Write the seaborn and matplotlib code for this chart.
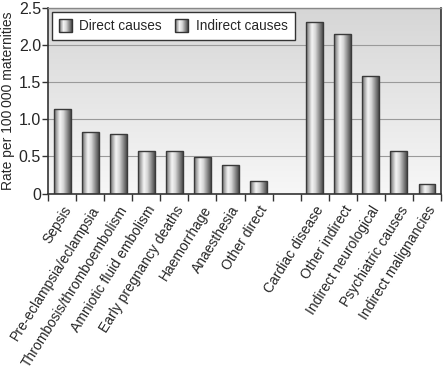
import numpy as np
import pandas as pd
import matplotlib
matplotlib.use("Agg")
import matplotlib.pyplot as plt
import seaborn as sns
from matplotlib.patches import Rectangle
from matplotlib.image import BboxImage
from matplotlib.transforms import Bbox, TransformedBbox
from matplotlib.colors import LinearSegmentedColormap

sns.set_style("white")
plt.rcParams["font.family"] = ["Liberation Sans", "DejaVu Sans"]

# data
direct_causes = ["Sepsis", "Pre-eclampsia/eclampsia", "Thrombosis/thromboembolism",
                 "Amniotic fluid embolism", "Early pregnancy deaths", "Haemorrhage",
                 "Anaesthesia", "Other direct"]
direct_rates = [1.14, 0.83, 0.80, 0.57, 0.57, 0.49, 0.38, 0.17]
indirect_causes = ["Cardiac disease", "Other indirect", "Indirect neurological",
                   "Psychiatric causes", "Indirect malignancies"]
indirect_rates = [2.31, 2.15, 1.58, 0.57, 0.13]
yticks = [0, 0.5, 1.0, 1.5, 2.0, 2.5]
ytick_labels = ["0", "0.5", "1.0", "1.5", "2.0", "2.5"]

df = pd.DataFrame({
    "cause": direct_causes + indirect_causes,
    "rate": direct_rates + indirect_rates,
    "group": ["Direct causes"] * len(direct_causes) + ["Indirect causes"] * len(indirect_causes),
})
spacer = " "
order = direct_causes + [spacer] + indirect_causes

cyl = LinearSegmentedColormap.from_list(
    "cyl", [(0, "#6a6a6a"), (0.35, "#f4f4f4"), (0.55, "#d8d8d8"), (1, "#4a4a4a")])
bgmap = LinearSegmentedColormap.from_list("bg", ["#f7f7f7", "#d6d6d6"])

fig, ax = plt.subplots(figsize=(4.45, 3.66), dpi=100)
fig.subplots_adjust(left=0.108, right=0.991, bottom=0.471, top=0.979)

sns.barplot(data=df, x="cause", y="rate", hue="group", order=order, dodge=False,
            palette=["#bbbbbb", "#bbbbbb"], width=0.6, ax=ax, legend=False)

ax.set_xlim(-0.5, len(order) - 0.5)
ax.set_ylim(0, 2.5)

# plot-area background gradient
ax.imshow(np.linspace(0, 1, 256).reshape(-1, 1), cmap=bgmap, aspect="auto",
          extent=[0, 1, 0, 1], transform=ax.transAxes, zorder=0, origin="lower")

# cylinder shading on every bar
grad = np.linspace(0, 1, 256).reshape(1, -1)
for p in ax.patches:
    x, y = p.get_x(), p.get_y()
    w, h = p.get_width(), p.get_height()
    if not np.isfinite(h) or h == 0:
        continue
    ax.imshow(grad, cmap=cyl, aspect="auto", extent=[x, x + w, y, y + h],
              zorder=1.1, interpolation="bilinear")
    p.set_facecolor("none")
    p.set_edgecolor("#3a3a3a")
    p.set_linewidth(1.0)
    p.set_zorder(1.2)

ax.set_xlim(-0.5, len(order) - 0.5)
ax.set_ylim(0, 2.5)

ax.yaxis.grid(True, color="#9a9a9a", linewidth=0.8)
ax.set_axisbelow(True)
ax.set_yticks(yticks)
ax.set_yticklabels(ytick_labels, fontsize=11.5)
ax.tick_params(axis="y", left=True, length=4, width=1, color="#333333", pad=1)

ax.set_xticks(range(len(order)))
ax.set_xticklabels([c if c != spacer else "" for c in order], rotation=58,
                   ha="right", rotation_mode="anchor", fontsize=10)
ax.set_xticks(np.arange(-0.5, len(order), 1), minor=True)
ax.tick_params(axis="x", which="major", length=0, pad=7)
ax.tick_params(axis="x", which="minor", bottom=True, length=5, width=1, color="#333333")

ax.set_xlabel("")
ax.set_ylabel("Rate per 100\u2009000 maternities", fontsize=10, labelpad=3)

for side in ["left", "bottom", "right"]:
    ax.spines[side].set_color("#333333")
    ax.spines[side].set_linewidth(1.2)
ax.spines["top"].set_color("#888888")
ax.spines["top"].set_linewidth(1.0)


class GradHandler:
    def legend_artist(self, legend, orig_handle, fontsize, handlebox):
        x0, y0 = handlebox.xdescent, handlebox.ydescent
        w, h = handlebox.width, handlebox.height
        s = w
        yb = y0 + (h - s) / 2
        bb = Bbox.from_bounds(x0, yb, s, s)
        img = BboxImage(TransformedBbox(bb, handlebox.get_transform()), cmap=cyl,
                        interpolation="bilinear")
        img.set_data(grad)
        handlebox.add_artist(img)
        r = Rectangle((x0, yb), s, s, fill=False, edgecolor="#333333",
                      linewidth=1.0, transform=handlebox.get_transform())
        handlebox.add_artist(r)
        return r


h1 = Rectangle((0, 0), 1, 1)
h2 = Rectangle((0, 0), 1, 1)
leg = ax.legend([h1, h2], ["Direct causes", "Indirect causes"],
                handler_map={Rectangle: GradHandler()}, ncol=2, loc="upper left",
                bbox_to_anchor=(0.01, 0.975), fontsize=9.8, frameon=True,
                fancybox=False, edgecolor="#333333", framealpha=1,
                handlelength=0.95, handletextpad=0.55, columnspacing=1.0,
                borderpad=0.5, borderaxespad=0)
leg.get_frame().set_linewidth(1.0)

fig.savefig("out.png", dpi=100, facecolor="white")
